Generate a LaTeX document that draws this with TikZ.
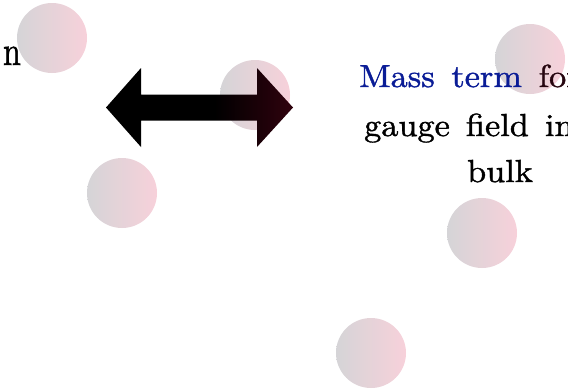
\documentclass[tikz,border=0pt]{standalone}
\usepackage{fontspec}
\setmainfont{lmroman10-regular.otf}[FakeBold=1.2]
\usepackage{graphicx}
\definecolor{circL}{RGB}{213,212,215}
\definecolor{circR}{RGB}{247,209,218}
\definecolor{arrowend}{RGB}{48,2,14}
\definecolor{termblue}{RGB}{10,28,150}
\definecolor{forcol}{RGB}{38,6,16}
\pgfdeclarehorizontalshading{arrowshade}{100bp}{color(0bp)=(black); color(54bp)=(black); color(75bp)=(arrowend); color(100bp)=(arrowend)}
\newcommand{\widetext}[1]{\scalebox{1.075}[1]{#1}}
\begin{document}
\begin{tikzpicture}[x=1bp,y=-1bp,
  bubble/.style={circle, minimum size=70bp, inner sep=0pt, draw=none, left color=circL, right color=circR},
  txt/.style={font=\fontsize{32}{47}\selectfont, inner sep=0pt}]
\useasboundingbox (0,0) rectangle (568,388);
\node[bubble] (c1) at (52,38) {};
\node[bubble] (c2) at (255,95) {};
\node[bubble] (c3) at (530,59) {};
\node[bubble] (c4) at (122,193) {};
\node[bubble] (c5) at (482,233) {};
\node[bubble] (c6) at (371,353) {};
\path[shading=arrowshade] (106,107.5) -- (141,68) -- (141,94.5) -- (257,94.5) -- (257,68) -- (293,107.5) -- (257,147) -- (257,120.5) -- (141,120.5) -- (141,147) -- cycle;
\node[txt, anchor=base east] (n) at (21,65) {\scalebox{1}[1.3]{n}};
\node[txt, anchor=base west] (l1) at (359,87) {\widetext{\spaceskip=15.5bp\relax{\color{termblue}Mass term} {\color{forcol}for}}};
\node[txt, anchor=base west] (l2) at (364,136) {\widetext{\spaceskip=15bp\relax gauge field in}};
\node[txt, anchor=base] (l3) at (500,182) {\widetext{bulk}};
\end{tikzpicture}
\end{document}
